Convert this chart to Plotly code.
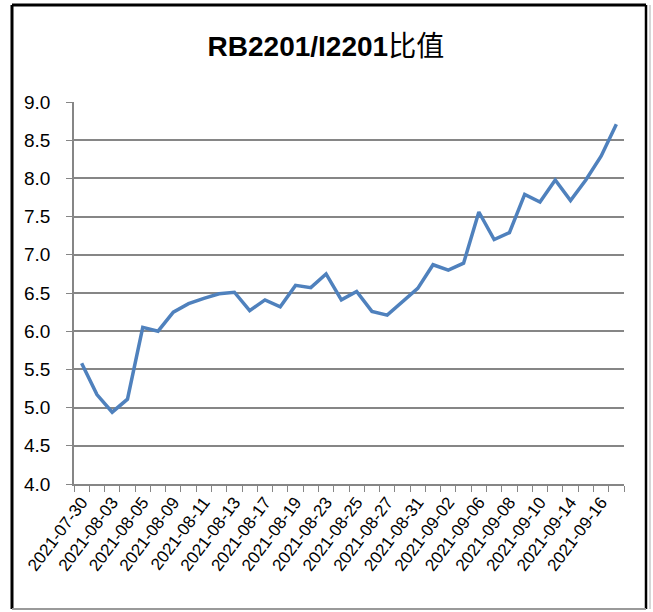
import plotly.graph_objects as go

dates = ["2021-07-30", "2021-08-02", "2021-08-03", "2021-08-04", "2021-08-05", "2021-08-06",
         "2021-08-09", "2021-08-10", "2021-08-11", "2021-08-12", "2021-08-13", "2021-08-16",
         "2021-08-17", "2021-08-18", "2021-08-19", "2021-08-20", "2021-08-23", "2021-08-24",
         "2021-08-25", "2021-08-26", "2021-08-27", "2021-08-30", "2021-08-31", "2021-09-01",
         "2021-09-02", "2021-09-03", "2021-09-06", "2021-09-07", "2021-09-08", "2021-09-09",
         "2021-09-10", "2021-09-13", "2021-09-14", "2021-09-15", "2021-09-16", "2021-09-17"]
ratio = [5.58, 5.17, 4.94, 5.11, 6.05, 6.00, 6.25, 6.36, 6.43, 6.49, 6.51, 6.27,
         6.41, 6.32, 6.60, 6.57, 6.75, 6.41, 6.52, 6.26, 6.21, 6.38, 6.56, 6.87,
         6.80, 6.89, 7.56, 7.20, 7.29, 7.79, 7.69, 7.98, 7.71, 7.98, 8.29, 8.71]
tick_text = [d if i % 2 == 0 else "" for i, d in enumerate(dates)]
y_ticks = [4.0, 4.5, 5.0, 5.5, 6.0, 6.5, 7.0, 7.5, 8.0, 8.5, 9.0]

W, H = 653, 612
L, R, T, B = 74, 29, 102, 128
pw, ph = W - L - R, H - T - B

def px(x):
    return (x - L) / pw

def py(y):
    return (H - B - y) / ph

fig = go.Figure()
fig.add_trace(go.Scatter(x=dates, y=ratio, mode="lines",
                         line=dict(color="#4F81BD", width=3.5),
                         showlegend=False, hoverinfo="x+y"))

fig.update_layout(
    width=W, height=H,
    margin=dict(l=L, r=R, t=T, b=B),
    paper_bgcolor="white", plot_bgcolor="white",
    font=dict(family="Liberation Sans, Arial, Noto Sans CJK SC, sans-serif", color="#000000"),
    title=dict(text="<b>RB2201/I2201</b>比值", x=0.499, xref="container", xanchor="center",
               y=1 - 46 / H, yref="container", yanchor="middle",
               font=dict(size=28, family="Liberation Sans, Noto Sans CJK SC, sans-serif", color="#000")),
    xaxis=dict(type="category", tickvals=dates, ticktext=tick_text, tickson="boundaries",
               ticks="outside", ticklen=6, tickcolor="#868686", tickwidth=1,
               tickangle=-53, tickfont=dict(size=17),
               showline=True, linecolor="#868686", linewidth=1.5,
               showgrid=False, zeroline=False, range=[-0.5, len(dates) - 0.5]),
    yaxis=dict(range=[4.0, 9.0], tickvals=y_ticks, tickformat=".1f",
               ticks="outside", ticklen=6, tickcolor="#868686", tickwidth=1,
               tickfont=dict(size=19), ticklabelstandoff=12,
               showline=True, linecolor="#868686", linewidth=1.5,
               showgrid=True, gridcolor="#868686", gridwidth=1.5, zeroline=False),
)

# chart frame
x0, x1, y0, y1 = px(12), px(646), py(609), py(5)
fig.add_shape(type="line", xref="paper", yref="paper", x0=x0, x1=x1, y0=y1, y1=y1,
              line=dict(color="black", width=3))
fig.add_shape(type="line", xref="paper", yref="paper", x0=x0, x1=x0, y0=y0, y1=y1,
              line=dict(color="black", width=3))
fig.add_shape(type="line", xref="paper", yref="paper", x0=x1, x1=x1, y0=y0, y1=y1,
              line=dict(color="black", width=2.5))
fig.add_shape(type="line", xref="paper", yref="paper", x0=x0, x1=x1, y0=y0, y1=y0,
              line=dict(color="#9a9a9a", width=2))
fig.add_shape(type="line", xref="paper", yref="paper", x0=px(650), x1=px(650), y0=y0, y1=y1,
              line=dict(color="#c8c8c8", width=1.5))

fig.write_html("out.html", config={"displayModeBar": False},
               post_script="document.body.style.margin='0';document.body.style.overflow='hidden';")
